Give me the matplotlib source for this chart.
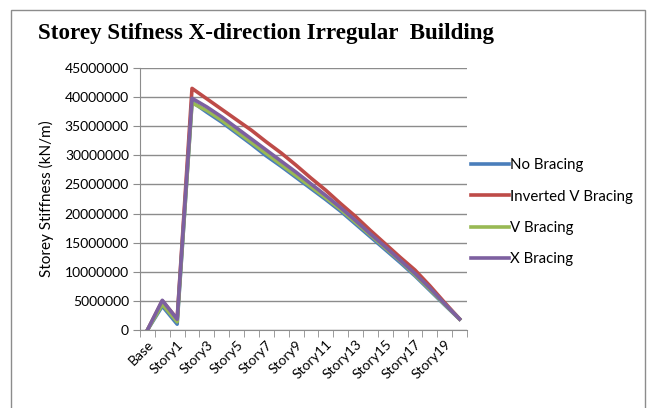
import numpy as np
import matplotlib
matplotlib.use('Agg')
import matplotlib.pyplot as plt
from matplotlib.patches import Rectangle

# 층 이름 (Base, Plinth, Story1 ~ Story20)
storeys = ['Base', 'Plinth'] + ['Story%d' % i for i in range(1, 21)]

# 층강성 (kN/m)
no_bracing = [0, 4100000, 1000000, 39200000, 37400000, 35700000, 33800000, 31900000,
              29900000, 28100000, 26200000, 24300000, 22400000, 20400000, 18200000,
              16000000, 13800000, 11600000, 9300000, 6800000, 4300000, 1850000]
inverted_v = [0, 5000000, 1900000, 41500000, 39700000, 37900000, 36100000, 34300000,
              32300000, 30400000, 28300000, 26100000, 24000000, 21700000, 19500000,
              17100000, 14800000, 12500000, 10300000, 7600000, 4700000, 1900000]
v_bracing = [0, 4400000, 1400000, 39000000, 37700000, 36000000, 34100000, 32200000,
             30300000, 28400000, 26500000, 24600000, 22700000, 20700000, 18500000,
             16300000, 14100000, 11900000, 9500000, 7000000, 4400000, 1880000]
x_bracing = [0, 5100000, 1850000, 39800000, 38300000, 36600000, 34700000, 32800000,
             30900000, 29000000, 27100000, 25100000, 23100000, 21000000, 18800000,
             16500000, 14300000, 12000000, 9700000, 7200000, 4500000, 1900000]

series = [('No Bracing', no_bracing, '#4A7EBB'),
          ('Inverted V Bracing', inverted_v, '#BE4B48'),
          ('V Bracing', v_bracing, '#98B954'),
          ('X Bracing', x_bracing, '#7D60A0')]

fig = plt.figure(figsize=(6.51, 4.08), dpi=100)
fig.patches.append(Rectangle((11 / 651, -0.1), 634 / 651, 1.1 - 10 / 408,
                             transform=fig.transFigure, fill=False,
                             edgecolor='#8c8c8c', lw=1.0))

ax = fig.add_axes([140 / 651, 1 - 330 / 408, 327 / 651, 262 / 408])
x = np.arange(len(storeys))
for name, vals, col in series:
    ax.plot(x, vals, color=col, lw=2.6, label=name)

ax.set_xlim(-0.5, len(storeys) - 0.5)
ax.set_ylim(0, 45000000)
ax.set_yticks(np.arange(0, 45000001, 5000000))
ax.set_yticklabels(['%d' % v for v in np.arange(0, 45000001, 5000000)],
                   fontsize=10, family='Lato')
ax.yaxis.grid(True, color='#8c8c8c', lw=1.0)
ax.set_axisbelow(True)

ax.set_xticks(x[::2])
ax.set_xticklabels(storeys[::2], rotation=45, ha='right', rotation_mode='anchor',
                   fontsize=10, family='Lato')
ax.set_xticks(np.arange(-0.5, len(storeys), 1), minor=True)
ax.tick_params(axis='x', which='major', length=0, pad=6)
ax.tick_params(axis='x', which='minor', length=5, color='#8c8c8c')
ax.tick_params(axis='y', length=5, color='#8c8c8c', pad=3)

for s in ['top', 'right']:
    ax.spines[s].set_visible(False)
for s in ['left', 'bottom']:
    ax.spines[s].set_color('#8c8c8c')

ax.set_ylabel('Storey Stiffness (kN/m)', fontsize=11, family='Lato', labelpad=8)

fig.text(38 / 651, 1 - 34 / 408, 'Storey Stifness X-direction Irregular  Building',
         fontsize=16.6, fontweight='bold', family='Liberation Serif', va='center')

ax.legend(loc='upper left', bbox_to_anchor=(0.971, 0.707), frameon=False,
          prop={'family': 'Lato', 'size': 10.8}, handlelength=2.5,
          handletextpad=0.1, labelspacing=1.15)

fig.savefig('out.png', dpi=100)
